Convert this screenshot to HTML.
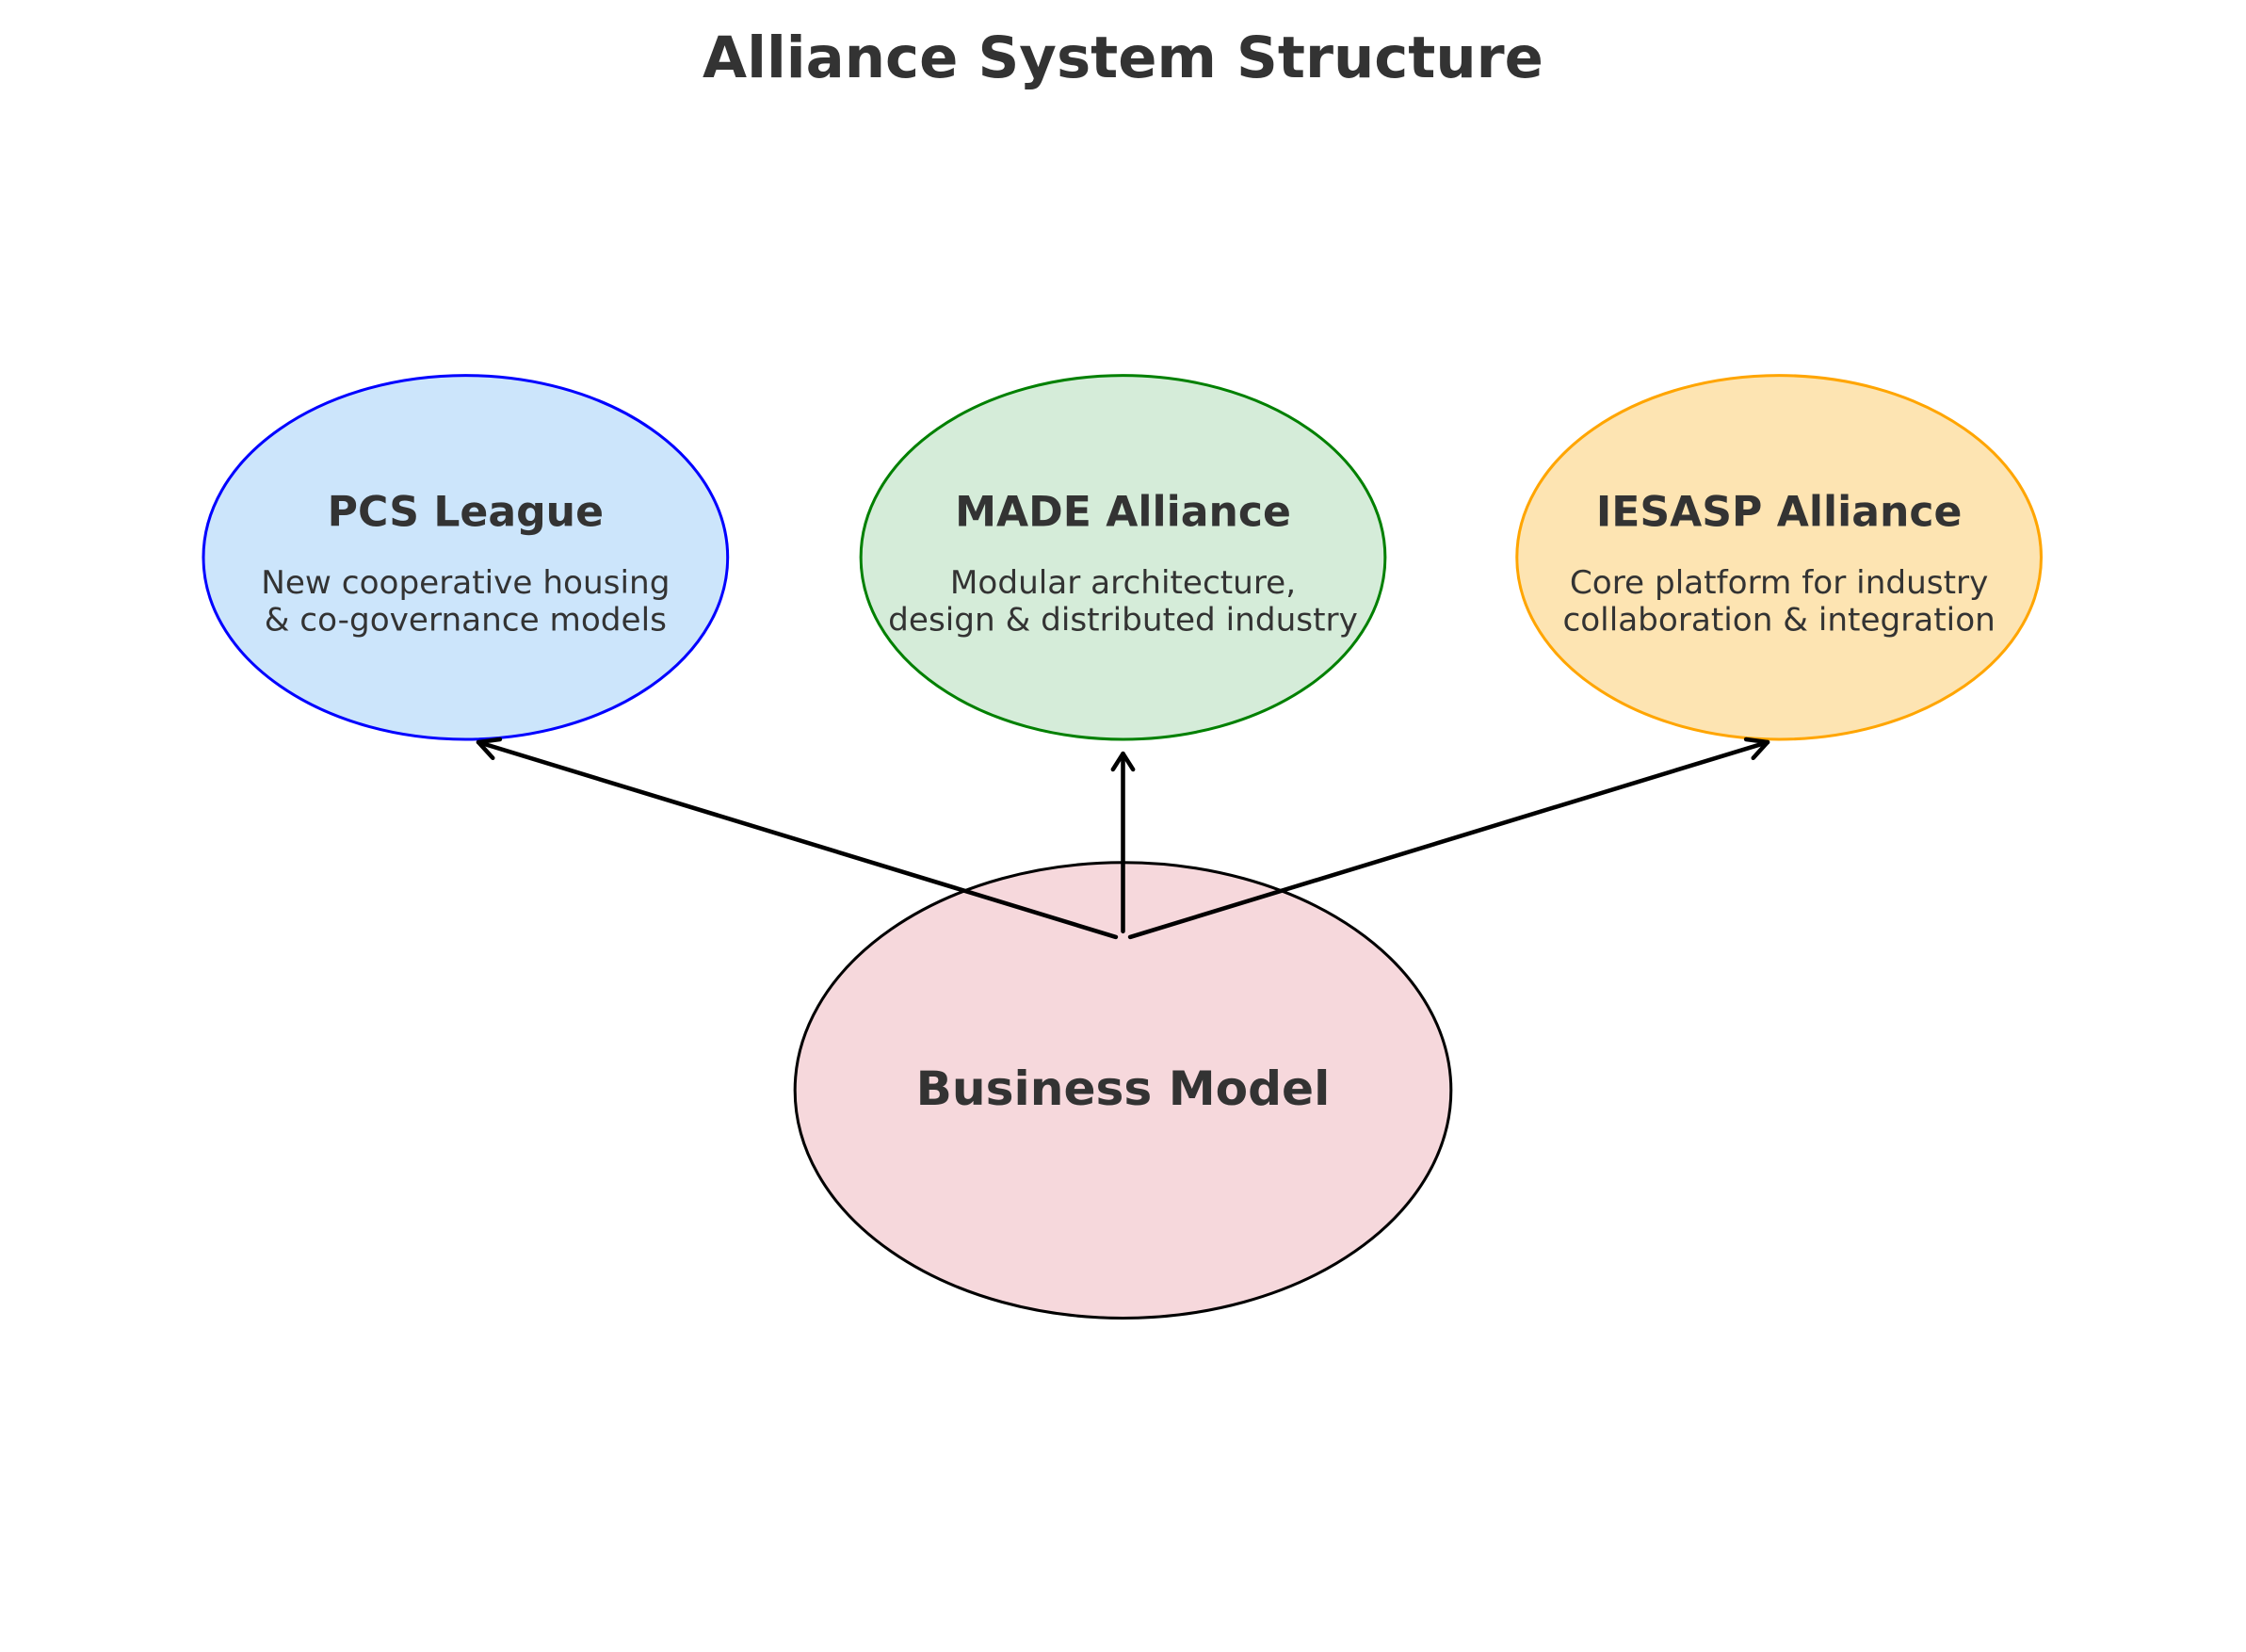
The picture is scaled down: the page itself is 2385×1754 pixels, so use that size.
<!DOCTYPE html>
<html><head><meta charset="utf-8"><style>html,body{margin:0;padding:0;background:#fff}svg{display:block}</style></head>
<body>
<svg width="2385" height="1754" viewBox="0 0 1568 1153" xmlns="http://www.w3.org/2000/svg" font-family="DejaVu Sans, Liberation Sans, sans-serif">
<rect width="1568" height="1153" fill="#fff"/>
<text x="784" y="54" text-anchor="middle" font-size="40" font-weight="bold" fill="#333">Alliance System Structure</text>
<ellipse cx="325" cy="389" rx="183" ry="127" fill="#cce5fb" stroke="#0000ff" stroke-width="2"/>
<ellipse cx="784" cy="389" rx="183" ry="127" fill="#d5ecd9" stroke="#008000" stroke-width="2"/>
<ellipse cx="1242" cy="389" rx="183" ry="127" fill="#fde4b2" stroke="#ffa500" stroke-width="2"/>
<ellipse cx="784" cy="761" rx="229" ry="159" fill="#f6d8dc" stroke="#000" stroke-width="2"/>
<g fill="#333" text-anchor="middle">
<text x="325" y="367" font-size="29" font-weight="bold">PCS League</text>
<text x="325" y="414" font-size="22.5">New cooperative housing</text>
<text x="325" y="440" font-size="22.5">&amp; co-governance models</text>
<text x="784" y="367" font-size="29" font-weight="bold">MADE Alliance</text>
<text x="784" y="414" font-size="22.5">Modular architecture,</text>
<text x="784" y="440" font-size="22.5">design &amp; distributed industry</text>
<text x="1242" y="367" font-size="29" font-weight="bold">IESASP Alliance</text>
<text x="1242" y="414" font-size="22.5">Core platform for industry</text>
<text x="1242" y="440" font-size="22.5">collaboration &amp; integration</text>
<text x="784" y="771" font-size="33" font-weight="bold">Business Model</text>
</g>
<g stroke="#000" stroke-width="3" fill="none" stroke-linecap="round" stroke-linejoin="round">
<line x1="779" y1="654" x2="334" y2="518"/>
<polyline points="344,529 334,518 349,516"/>
<line x1="784" y1="650" x2="784" y2="526"/>
<polyline points="777,537 784,526 791,537"/>
<line x1="789" y1="654" x2="1234" y2="518"/>
<polyline points="1219,516 1234,518 1224,529"/>
</g>
</svg>
</body></html>
